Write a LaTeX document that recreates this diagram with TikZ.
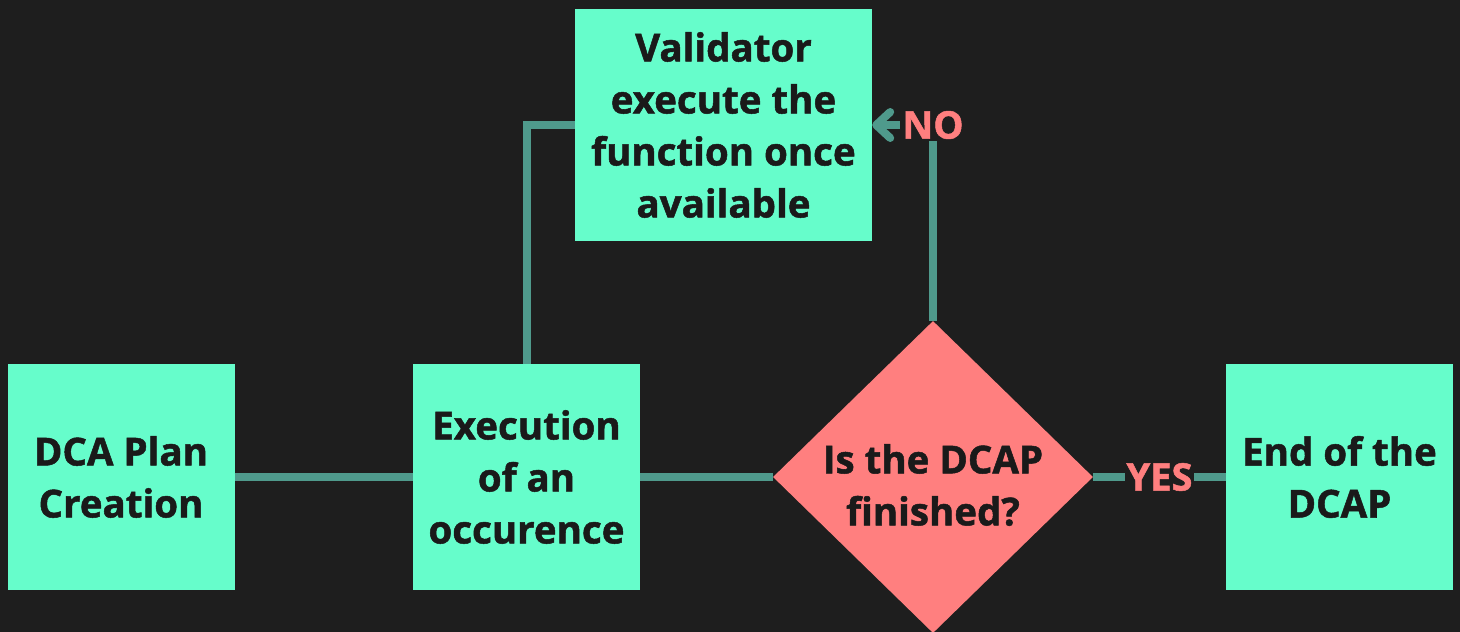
\documentclass[tikz,border=0pt]{standalone}
\usepackage{fontspec}
\setmainfont{Open Sans}[BoldFeatures={FakeBold=1.3}]
\usetikzlibrary{shapes.geometric,arrows.meta}
\definecolor{bg}{HTML}{1E1E1E}
\definecolor{mint}{HTML}{66FDCB}
\definecolor{salmon}{HTML}{FF7F7F}
\definecolor{lineteal}{HTML}{4F9A8C}
\definecolor{ink}{HTML}{1A1A1A}
\begin{document}
\begin{tikzpicture}[x=1pt,y=-1pt,
  txt/.style={align=center, font=\fontsize{38.5}{52}\selectfont\bfseries, text=ink},
  box/.style={txt, fill=mint, minimum width=227pt, minimum height=226pt, inner sep=0pt},
  decision/.style={diamond, fill=salmon, minimum width=320pt, minimum height=312pt, inner sep=0pt},
  conn/.style={draw=lineteal, line width=8pt},
  lbl/.style={fill=bg, text=salmon, font=\fontsize{38}{44}\selectfont\bfseries, inner sep=2pt}]
\useasboundingbox (0,0) rectangle (1460,632);
\clip (0,0) rectangle (1460,632);
\fill[bg] (0,0) rectangle (1460,632);
\node[box] (plan) at (121,477) {DCA Plan\\Creation};
\node[box] (exec) at (526.5,477) {Execution\\of an\\occurence};
\node[box, minimum width=297pt, minimum height=232pt] (val) at (723.5,125) {Validator\\execute the\\function once\\available};
\node[box] (end) at (1339.5,477) {End of the\\DCAP};
\node[decision] (dec) at (933,477) {};
\node[txt, yshift=-8pt] (dectext) at (dec.center) {Is the DCAP\\finished?};
\coordinate (nocorner) at (dec.north |- val.east);
\draw[conn] (plan.east) -- (exec.west);
\draw[conn] (exec.east) -- (dec.west);
\draw[conn] (exec.north) |- (val.west);
\draw[conn, -{Straight Barb[length=14pt,width=26pt,round]}] (dec.north) -- (nocorner) -- (val.east);
\node[lbl] (no) at (nocorner) {NO};
\draw[conn] (dec.east) -- (end.west) node[midway, lbl] (yes) {YES};
\end{tikzpicture}
\end{document}
